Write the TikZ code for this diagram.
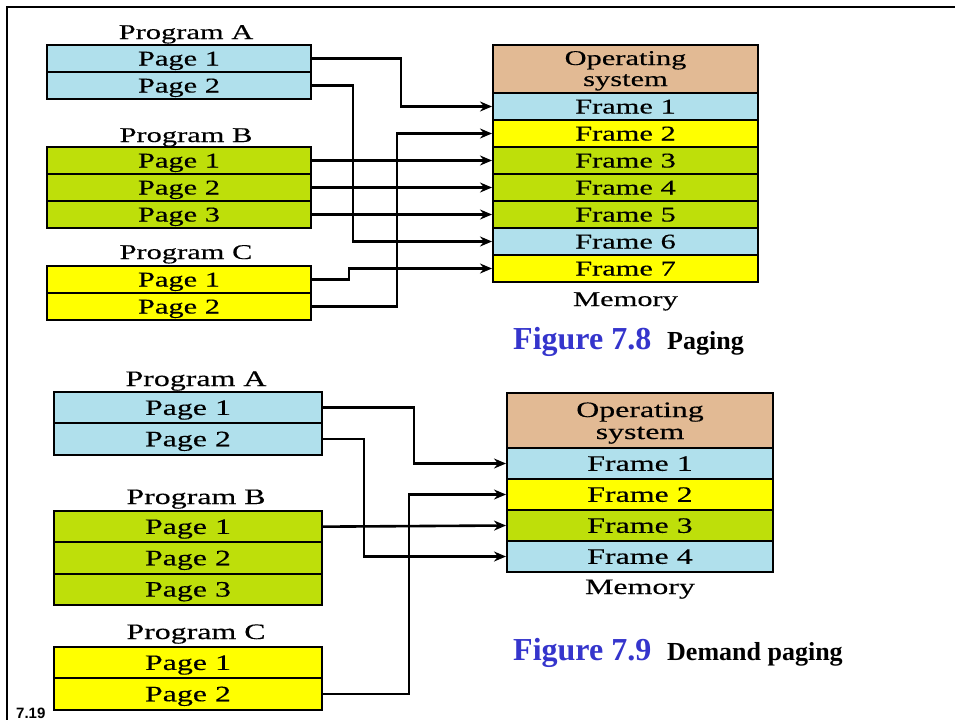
\documentclass[tikz,border=0pt]{standalone}
\usepackage{fontspec}
\usetikzlibrary{arrows.meta}
\newfontfamily\diagfont[FakeStretch=1.45,FakeBold=0.3]{Liberation Serif}
\newfontfamily\capfont{Liberation Serif}
\newfontfamily\numfont{Liberation Sans}
\definecolor{pblue}{HTML}{B0E0EC}
\definecolor{pgreen}{HTML}{BEDF0A}
\definecolor{pyellow}{HTML}{FFFF00}
\definecolor{ptan}{HTML}{E2BA94}
\definecolor{capblue}{HTML}{3535CC}
\tikzset{
  fA/.style={font=\diagfont\fontsize{21}{18}\selectfont},
  fB/.style={font=\diagfont\fontsize{22}{19}\selectfont},
  cellbase/.style={draw=black, line width=2pt, inner sep=0pt, text depth=0pt},
  cellA/.style={cellbase, fA, minimum width=264pt, minimum height=27pt, text height=14pt},
  memA/.style={cellbase, fA, minimum width=265pt, minimum height=27pt, text height=14pt},
  cellB/.style={cellbase, fB, minimum width=268pt, minimum height=31.3pt, text height=14.6pt},
  memB/.style={cellbase, fB, minimum width=266pt, minimum height=31pt, text height=14.6pt},
  osbox/.style={draw=black, line width=2pt, inner sep=0pt, fill=ptan},
  lbl/.style={anchor=base, inner sep=0pt},
  conn/.style={line width=2.6pt, -{Stealth[length=12pt,width=10pt]}},
  capA/.style={anchor=base west, inner sep=0pt, font=\capfont\bfseries\fontsize{32}{32}\selectfont, text=capblue},
  capB/.style={anchor=base west, inner sep=0pt, font=\capfont\bfseries\fontsize{26}{26}\selectfont},
}
\begin{document}
\begin{tikzpicture}[x=1pt,y=-1pt]
\useasboundingbox (0,0) rectangle (955,720);
% frame
\draw[line width=2.2pt] (955,7) -- (7,7) -- (7,720);

% ===== Figure 7.8 =====
\node[lbl, fA] (pa) at (186,39) {Program A};
\node[cellA, fill=pblue] (a1) at (179,58.5) {Page 1};
\node[cellA, fill=pblue] (a2) at (179,85.5) {Page 2};
\node[lbl, fA] (pb) at (186,142) {Program B};
\node[cellA, fill=pgreen] (b1) at (179,160.5) {Page 1};
\node[cellA, fill=pgreen] (b2) at (179,187.5) {Page 2};
\node[cellA, fill=pgreen] (b3) at (179,214.5) {Page 3};
\node[lbl, fA] (pc) at (186,259) {Program C};
\node[cellA, fill=pyellow] (c1) at (179,279.5) {Page 1};
\node[cellA, fill=pyellow] (c2) at (179,306.5) {Page 2};

\node[osbox, minimum width=265pt, minimum height=48pt] (os) at (625.5,69) {};
\node[lbl, fA] (os1) at (625.5,65) {Operating};
\node[lbl, fA] (os1b) at (625.5,86) {system};
\node[memA, fill=pblue] (f1) at (625.5,106.5) {Frame 1};
\node[memA, fill=pyellow] (f2) at (625.5,133.5) {Frame 2};
\node[memA, fill=pgreen] (f3) at (625.5,160.5) {Frame 3};
\node[memA, fill=pgreen] (f4) at (625.5,187.5) {Frame 4};
\node[memA, fill=pgreen] (f5) at (625.5,214.5) {Frame 5};
\node[memA, fill=pblue] (f6) at (625.5,241.5) {Frame 6};
\node[memA, fill=pyellow] (f7) at (625.5,268.5) {Frame 7};
\node[lbl, fA] (mem) at (625.5,306) {Memory};

\draw[conn] (a1.east) -- ++(89,0) |- (f1.west);
\draw[conn] (a2.east) -- ++(41,0) |- (f6.west);
\draw[conn] (b1.east) -- (f3.west);
\draw[conn] (b2.east) -- (f4.west);
\draw[conn] (b3.east) -- (f5.west);
\draw[conn] (c1.east) -- ++(37,0) |- (f7.west);
\draw[conn] (c2.east) -- ++(85,0) |- (f2.west);

\node[capA] (cap1) at (513,349) {Figure 7.8};
\node[capB] (cap1b) at (667,349) {Paging};

% ===== Figure 7.9 =====
\node[lbl, fB] (qa) at (196,386) {Program A};
\node[cellB, fill=pblue] (d1) at (188,407.65) {Page 1};
\node[cellB, fill=pblue] (d2) at (188,438.95) {Page 2};
\node[lbl, fB] (qb) at (196,504) {Program B};
\node[cellB, fill=pgreen] (e1) at (188,526.65) {Page 1};
\node[cellB, fill=pgreen] (e2) at (188,557.95) {Page 2};
\node[cellB, fill=pgreen] (e3) at (188,589.25) {Page 3};
\node[lbl, fB] (qc) at (196,639) {Program C};
\node[cellB, fill=pyellow] (g1) at (188,662.65) {Page 1};
\node[cellB, fill=pyellow] (g2) at (188,693.95) {Page 2};

\node[osbox, minimum width=266pt, minimum height=55pt] (os2) at (640,420.5) {};
\node[lbl, fB] (os2a) at (640,417) {Operating};
\node[lbl, fB] (os2b) at (640,439) {system};
\node[memB, fill=pblue] (h1) at (640,463.5) {Frame 1};
\node[memB, fill=pyellow] (h2) at (640,494.5) {Frame 2};
\node[memB, fill=pgreen] (h3) at (640,525.5) {Frame 3};
\node[memB, fill=pblue] (h4) at (640,556.5) {Frame 4};
\node[lbl, fB] (mem2) at (640,594) {Memory};

\draw[conn] (d1.east) -- ++(91,0) |- (h1.west);
\draw[conn] (d2.east) -- ++(41,0) |- (h4.west);
\draw[conn] (e1.east) -- (h3.west);
\draw[conn] (g2.east) -- ++(86,0) |- (h2.west);

\node[capA] (cap2) at (513,660) {Figure 7.9};
\node[capB] (cap2b) at (667,660) {Demand paging};

\node[anchor=base west, inner sep=0pt, font=\numfont\bfseries\fontsize{15}{15}\selectfont] (pg) at (16,718) {7.19};
\end{tikzpicture}
\end{document}
